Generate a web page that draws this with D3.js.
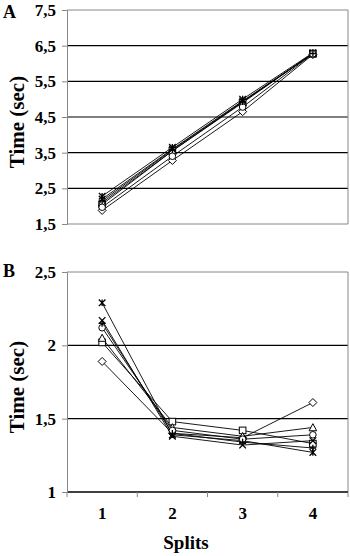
<!DOCTYPE html>
<html><head><meta charset="utf-8">
<script src="https://cdn.jsdelivr.net/npm/d3@7"></script>
<style>body{margin:0;background:#fff}svg{display:block}svg text{font-family:"Times New Roman","Liberation Serif","DejaVu Serif",serif !important;font-weight:bold}</style>
</head><body>
<svg id="c" width="350" height="556"></svg>
<script>
const splits = [1, 2, 3, 4];
const markers = ["diamond", "square", "triangle", "x", "star", "circle", "plus"];
const ticksA = [1.5, 2.5, 3.5, 4.5, 5.5, 6.5, 7.5];
const ticksB = [1, 1.5, 2, 2.5];
// Panel A series
const A_diamond  = [1.88, 3.28, 4.65, 6.25];
const A_square   = [2.05, 3.55, 4.90, 6.28];
const A_triangle = [2.10, 3.55, 4.92, 6.28];
const A_x        = [2.20, 3.60, 4.95, 6.27];
const A_star     = [2.28, 3.65, 5.00, 6.30];
const A_circle   = [1.97, 3.40, 4.78, 6.27];
const A_plus     = [2.15, 3.58, 4.93, 6.28];
// Panel B series
const B_diamond  = [1.89, 1.40, 1.37, 1.61];
const B_square   = [2.02, 1.48, 1.42, 1.33];
const B_triangle = [2.05, 1.44, 1.38, 1.44];
const B_x        = [2.17, 1.38, 1.32, 1.35];
const B_star     = [2.29, 1.39, 1.35, 1.27];
const B_circle   = [2.12, 1.42, 1.36, 1.39];
const B_plus     = [2.15, 1.40, 1.34, 1.30];

const seriesA = [A_diamond, A_square, A_triangle, A_x, A_star, A_circle, A_plus];
const seriesB = [B_diamond, B_square, B_triangle, B_x, B_star, B_circle, B_plus];

const FONT = '"Times New Roman","Liberation Serif","DejaVu Serif",serif';
const svg = d3.select("#c");
const fmt = d => String(d).replace(".", ",");
const x = d3.scaleBand().domain(splits).range([67, 348]);
const cx = d => x(d) + x.bandwidth() / 2;

function marker(g, type, px, py) {
  const s = 3.3;
  if (type === "diamond") g.append("path").attr("d", `M${px},${py-s-0.7}L${px+s+0.7},${py}L${px},${py+s+0.7}L${px-s-0.7},${py}Z`).attr("fill","#fff").attr("stroke","#000");
  else if (type === "square") g.append("rect").attr("x",px-s).attr("y",py-s).attr("width",2*s).attr("height",2*s).attr("fill","#fff").attr("stroke","#000");
  else if (type === "triangle") g.append("path").attr("d",`M${px},${py-s-0.5}L${px+s+0.5},${py+s}L${px-s-0.5},${py+s}Z`).attr("fill","#fff").attr("stroke","#000");
  else if (type === "circle") g.append("circle").attr("cx",px).attr("cy",py).attr("r",s).attr("fill","#fff").attr("stroke","#000");
  else if (type === "x") g.append("path").attr("d",`M${px-s},${py-s}L${px+s},${py+s}M${px+s},${py-s}L${px-s},${py+s}`).attr("stroke","#000").attr("stroke-width",1.3);
  else if (type === "star") g.append("path").attr("d",`M${px-s},${py-s}L${px+s},${py+s}M${px+s},${py-s}L${px-s},${py+s}M${px},${py-s}L${px},${py+s}`).attr("stroke","#000").attr("stroke-width",1.3);
  else g.append("path").attr("d",`M${px-s},${py}L${px+s},${py}M${px},${py-s}L${px},${py+s}`).attr("stroke","#000").attr("stroke-width",1.3);
}

function styleText(sel, size) {
  sel.attr("font-size", size).attr("font-family", FONT).attr("font-weight", "bold").attr("fill", "#000")
     .style("font-family", FONT).style("font-size", size + "px");
}

function panel(series, ticks, top, bottom, label, labelY, showX) {
  const y = d3.scaleLinear().domain([ticks[0], ticks[ticks.length-1]]).range([bottom, top]);
  const g = svg.append("g");
  g.selectAll("line.grid").data(ticks.slice(1, -1)).join("line")
    .attr("x1", 67).attr("x2", 348).attr("y1", d => y(d)).attr("y2", d => y(d))
    .attr("stroke", "#000").attr("stroke-width", 1.2);
  g.append("line").attr("x1",67).attr("x2",348).attr("y1",top).attr("y2",top).attr("stroke","#888");
  g.append("line").attr("x1",348).attr("x2",348).attr("y1",top).attr("y2",bottom).attr("stroke","#888");
  g.append("line").attr("x1",67).attr("x2",348).attr("y1",bottom).attr("y2",bottom).attr("stroke", showX ? "#000" : "#888").attr("stroke-width", showX ? 1.3 : 1);
  const ax = g.append("g").attr("transform","translate(67,0)").call(d3.axisLeft(y).tickValues(ticks).tickFormat(fmt).tickSize(5).tickPadding(6));
  ax.attr("font-family", FONT);
  ax.select(".domain").attr("stroke","#888");
  ax.selectAll(".tick line").attr("stroke","#888");
  styleText(ax.selectAll("text"), 17);
  if (showX) {
    const xa = g.append("g").attr("transform",`translate(0,${bottom})`).call(d3.axisBottom(x).tickSize(0).tickPadding(15));
    xa.attr("font-family", FONT);
    xa.select(".domain").remove();
    styleText(xa.selectAll("text"), 17);
    const edges = d3.range(splits.length + 1).map(i => 67 + i * x.step());
    g.selectAll("line.xt").data(edges).join("line").attr("x1",d=>d).attr("x2",d=>d).attr("y1",bottom).attr("y2",bottom+5).attr("stroke","#888");
  }
  const line = d3.line().x((d,i) => cx(splits[i])).y(d => y(d));
  series.forEach(s => {
    g.append("path").attr("d", line(s)).attr("fill","none").attr("stroke","#000").attr("stroke-width",0.9);
  });
  series.forEach((s, k) => {
    s.forEach((v, i) => marker(g, markers[k], cx(splits[i]), y(v)));
  });
  styleText(svg.append("text").attr("x",3).attr("y",labelY).text(label), 18);
  styleText(svg.append("text").attr("transform",`translate(24,${(top+bottom)/2 + 5}) rotate(-90)`).attr("text-anchor","middle").text("Time (sec)"), 21);
}

panel(seriesA, ticksA, 10, 224, "A", 18, false);
panel(seriesB, ticksB, 272, 492, "B", 277, true);
styleText(svg.append("text").attr("x",186).attr("y",549).attr("text-anchor","middle").text("Splits"), 19);
</script>
</body></html>
